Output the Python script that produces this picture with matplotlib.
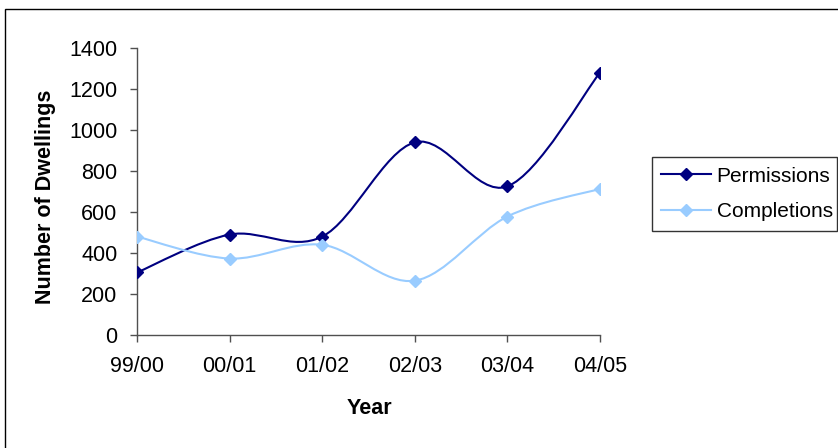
import numpy as np
import matplotlib
matplotlib.use("Agg")
import matplotlib.pyplot as plt
from matplotlib.path import Path
from matplotlib.patches import PathPatch, Rectangle
from matplotlib.lines import Line2D

### data
years = ["99/00", "00/01", "01/02", "02/03", "03/04", "04/05"]
permissions = [305, 490, 480, 940, 725, 1280]
completions = [480, 373, 440, 265, 578, 713]

navy = "#000080"
light_blue = "#99CCFF"

plt.rcParams["font.family"] = ["Liberation Sans", "DejaVu Sans"]


def smooth_path(x, y):
    # Excel style smoothed line: cubic bezier, control points from neighbours / 6
    x = np.asarray(x, float)
    y = np.asarray(y, float)
    pts = np.column_stack([x, y])
    ext = np.vstack([pts[0], pts, pts[-1]])
    verts = [pts[0]]
    codes = [Path.MOVETO]
    for i in range(len(pts) - 1):
        c1 = ext[i + 1] + (ext[i + 2] - ext[i]) / 6
        c2 = ext[i + 2] - (ext[i + 3] - ext[i + 1]) / 6
        verts += [c1, c2, pts[i + 1]]
        codes += [Path.CURVE4] * 3
    return Path(verts, codes)


fig = plt.figure(figsize=(8.38, 4.48), dpi=100)
ax = fig.add_axes([137 / 838, 1 - 335 / 448, (600 - 137) / 838, (335 - 48) / 448])

xs = np.arange(len(years))
for vals, col in [(permissions, navy), (completions, light_blue)]:
    ax.add_patch(PathPatch(smooth_path(xs, vals), facecolor="none", edgecolor=col, lw=1.5, zorder=2))
    ax.plot(xs, vals, ls="none", marker="D", ms=6, color=col, zorder=3)

ax.set_xlim(0, 5)
ax.set_ylim(0, 1400)
ax.set_yticks(range(0, 1401, 200))
ax.set_xticks(xs)
ax.set_xticklabels(years)
for s in ["top", "right"]:
    ax.spines[s].set_visible(False)
for s in ["left", "bottom"]:
    ax.spines[s].set_color("#505050")
    ax.spines[s].set_linewidth(1.0)
ax.tick_params(axis="both", direction="out", length=5, width=1, color="#505050", labelsize=15.5)
ax.tick_params(axis="x", pad=10)
ax.tick_params(axis="y", pad=9)

fig.text(45 / 838, 1 - 197 / 448, "Number of Dwellings", rotation=90, fontsize=15.5,
         fontweight="bold", ha="center", va="center")
fig.text(369 / 838, 1 - 408 / 448, "Year", fontsize=15.5, fontweight="bold",
         ha="center", va="center")

# outer chart frame
fig.patches.append(Rectangle((5 / 838, -0.1), 1.2, 1 - 9 / 448 + 0.1, transform=fig.transFigure,
                             fill=False, edgecolor="black", lw=1.0))

handles = [Line2D([], [], color=navy, lw=1.5, marker="D", ms=6),
           Line2D([], [], color=light_blue, lw=1.5, marker="D", ms=6)]
leg = fig.legend(handles, ["Permissions", "Completions"], loc="center left",
                 bbox_to_anchor=(652 / 838, 1 - 233 / 448, (837 - 652) / 838, (233 - 155) / 448),
                 mode="expand", fontsize=15, frameon=True, fancybox=False,
                 handlelength=2.4, handletextpad=0.25, borderpad=0.45, labelspacing=0.8,
                 borderaxespad=0)
leg.get_frame().set_edgecolor("black")
leg.get_frame().set_linewidth(1.0)

fig.savefig("out.png", dpi=100)
